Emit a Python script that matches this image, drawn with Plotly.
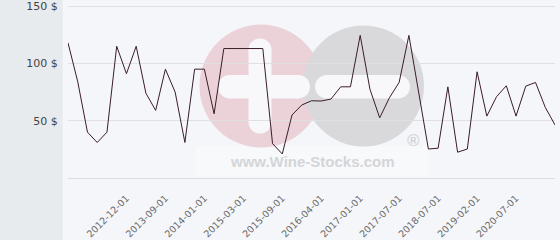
import plotly.graph_objects as go

# ---- data ----
values = [118, 84, 40, 31, 40, 115, 91, 115, 74, 59,
          95, 75, 31, 95, 95, 56, 113, 113, 113, 113,
          113, 30, 21, 55, 63.7, 67.4, 67.2, 68.9, 79.6, 79.6,
          124.5, 77.5, 52.5, 70, 83.5, 124.5, 75, 25.3, 26, 79.6,
          22.5, 25.3, 92.7, 54, 71, 80.5, 54, 80.2, 83.4, 61.7,
          46.3]
points = list(range(len(values)))
tick_labels = ["2012-12-01", "2013-09-01", "2014-01-01", "2015-03-01",
               "2015-09-01", "2016-04-01", "2017-01-01", "2017-07-01",
               "2018-07-01", "2019-02-01", "2020-07-01"]
tick_points = [6, 10, 14, 18, 22, 26, 30, 34, 38, 42, 46]
y_ticks = [50, 100, 150]
y_tick_text = ["50 $", "100 $", "150 $"]

W, H = 560, 240
ML, MR, MT, MB = 68, 5, 5, 62
PW, PH = W - ML - MR, H - MT - MB


def px(x):
    return (x - ML) / PW


def py(y):
    return (H - MB - y) / PH


shapes = []
# left grey panel
shapes.append(dict(type="rect", xref="paper", yref="paper", layer="below",
                   x0=px(0), x1=px(62.7), y0=py(240), y1=py(0),
                   fillcolor="#e8ebee", line=dict(width=0)))
# watermark: lighter band below logo
shapes.append(dict(type="rect", xref="paper", yref="paper", layer="below",
                   x0=px(196), x1=px(428), y0=py(176), y1=py(146),
                   fillcolor="rgba(255,255,255,0.35)", line=dict(width=0)))


def circle(cx, cy, r, color):
    shapes.append(dict(type="circle", xref="paper", yref="paper", layer="below",
                       x0=px(cx - r), x1=px(cx + r), y0=py(cy + r), y1=py(cy - r),
                       fillcolor=color, line=dict(width=0)))


def rbar(x0, y0, x1, y1, color):
    # rounded bar: rect + end circles
    if x1 - x0 >= y1 - y0:
        r = (y1 - y0) / 2
        shapes.append(dict(type="rect", xref="paper", yref="paper", layer="below",
                           x0=px(x0 + r), x1=px(x1 - r), y0=py(y1), y1=py(y0),
                           fillcolor=color, line=dict(width=0)))
        circle(x0 + r, (y0 + y1) / 2, r, color)
        circle(x1 - r, (y0 + y1) / 2, r, color)
    else:
        r = (x1 - x0) / 2
        shapes.append(dict(type="rect", xref="paper", yref="paper", layer="below",
                           x0=px(x0), x1=px(x1), y0=py(y1 - r), y1=py(y0 + r),
                           fillcolor=color, line=dict(width=0)))
        circle((x0 + x1) / 2, y0 + r, r, color)
        circle((x0 + x1) / 2, y1 - r, r, color)


circle(261, 86, 61.5, "#ebd1d8")
circle(363.5, 86, 60.5, "#d9d9dc")
white = "#f8f8fa"
rbar(248.5, 38.5, 271.5, 133.5, white)
rbar(218, 75, 310, 98.5, white)
rbar(315, 75, 410, 98.5, white)

annotations = [
    dict(text="<b>www.Wine-Stocks.com</b>", xref="paper", yref="paper",
         x=px(312), y=py(161), xanchor="center", yanchor="middle", showarrow=False,
         font=dict(family="Liberation Sans", size=15, color="#d4d5d8")),
    dict(text="<b>®</b>", xref="paper", yref="paper",
         x=px(413), y=py(140), xanchor="center", yanchor="middle", showarrow=False,
         font=dict(family="Liberation Sans", size=17, color="#d4d5d8")),
]

fig = go.Figure()
fig.add_trace(go.Scatter(x=points, y=values, mode="lines",
                         line=dict(color="#3a1c2b", width=1), hoverinfo="skip"))

fig.update_layout(
    width=W, height=H,
    margin=dict(l=ML, r=MR, t=MT, b=MB, pad=0, autoexpand=False),
    paper_bgcolor="#f5f6f9",
    plot_bgcolor="rgba(0,0,0,0)",
    showlegend=False,
    shapes=shapes,
    annotations=annotations,
    xaxis=dict(range=[0, len(values) - 1], tickmode="array",
               tickvals=tick_points, ticktext=tick_labels, tickangle=-45,
               showgrid=False, zeroline=False, showline=True, automargin=False,
               linecolor="#dcdcdf", linewidth=1,
               ticks="outside", ticklen=10, tickcolor="rgba(0,0,0,0)",
               tickfont=dict(family="DejaVu Sans", size=9.5, color="#6a6a6a")),
    yaxis=dict(range=[0, 151], tickmode="array", tickvals=y_ticks,
               ticktext=y_tick_text, showgrid=True, gridcolor="#e0e0e3",
               gridwidth=1, zeroline=False, showline=False, automargin=False,
               ticks="outside", ticklen=7, tickcolor="rgba(0,0,0,0)",
               tickfont=dict(family="DejaVu Sans", size=11, color="#444444")),
)

fig.write_html("out.html")
